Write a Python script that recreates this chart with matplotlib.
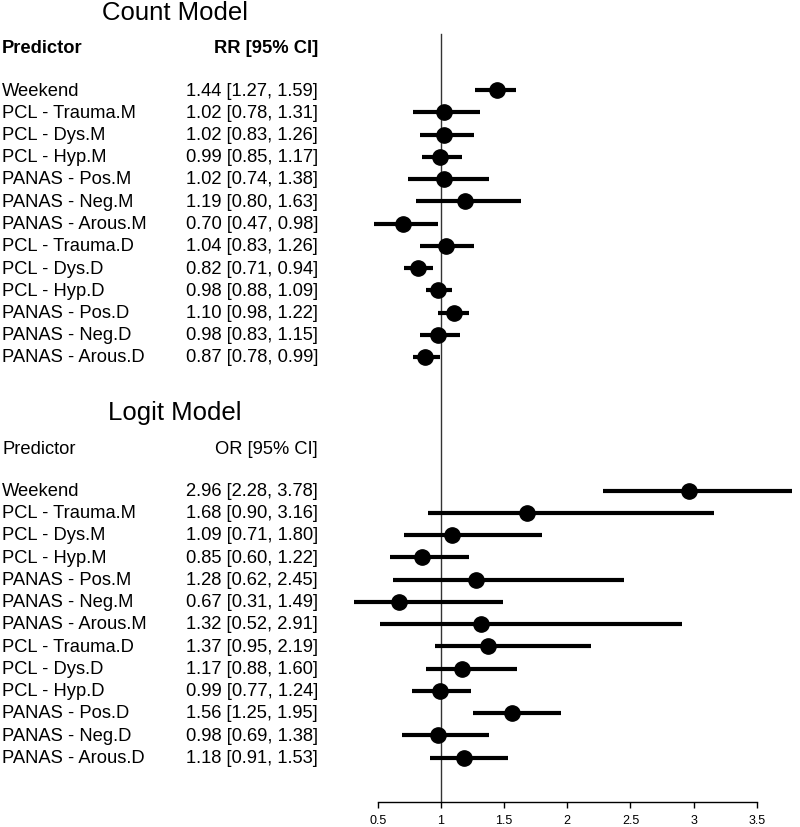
import numpy as np
import matplotlib.pyplot as plt

predictors = ["Weekend", "PCL - Trauma.M", "PCL - Dys.M", "PCL - Hyp.M",
              "PANAS - Pos.M", "PANAS - Neg.M", "PANAS - Arous.M",
              "PCL - Trauma.D", "PCL - Dys.D", "PCL - Hyp.D",
              "PANAS - Pos.D", "PANAS - Neg.D", "PANAS - Arous.D"]

# count model (rate ratios)
rr = [1.44, 1.02, 1.02, 0.99, 1.02, 1.19, 0.70, 1.04, 0.82, 0.98, 1.10, 0.98, 0.87]
rr_lo = [1.27, 0.78, 0.83, 0.85, 0.74, 0.80, 0.47, 0.83, 0.71, 0.88, 0.98, 0.83, 0.78]
rr_hi = [1.59, 1.31, 1.26, 1.17, 1.38, 1.63, 0.98, 1.26, 0.94, 1.09, 1.22, 1.15, 0.99]

# logit model (odds ratios)
odds = [2.96, 1.68, 1.09, 0.85, 1.28, 0.67, 1.32, 1.37, 1.17, 0.99, 1.56, 0.98, 1.18]
or_lo = [2.28, 0.90, 0.71, 0.60, 0.62, 0.31, 0.52, 0.95, 0.88, 0.77, 1.25, 0.69, 0.91]
or_hi = [3.78, 3.16, 1.80, 1.22, 2.45, 1.49, 2.91, 2.19, 1.60, 1.24, 1.95, 1.38, 1.53]

xticks = [0.5, 1, 1.5, 2, 2.5, 3, 3.5]

plt.rcParams['font.family'] = ['Liberation Sans', 'DejaVu Sans']

fig = plt.figure(figsize=(8, 8.28), dpi=100)
ax = fig.add_axes([0, 1 - 803 / 828, 1, 803 / 828])

# pixel mapping: x=1 at 441px, 126.3 px per unit
ppu = 126.3
ax.set_xlim(1 - 441 / ppu, 1 + (800 - 441) / ppu)
row_h = 22.25
ax.set_ylim((803 - 91) / row_h, -91 / row_h)

for sp in ["top", "right", "left"]:
    ax.spines[sp].set_visible(False)
ax.spines["bottom"].set_bounds(0.5, 3.5)
ax.spines["bottom"].set_linewidth(1)
ax.set_yticks([])
ax.set_xticks(xticks)
ax.set_xticklabels([f"{t:g}" for t in xticks], fontsize=9)
ax.tick_params(axis="x", length=4.5, width=1, pad=4)

ax.plot([1, 1], [-2.5, (803 - 91) / row_h], color="#333333", lw=1, zorder=1)

x_label = 1 - 439 / ppu
x_val = 1 - (441 - 318) / ppu


def block(offset, est, lo, hi, title, header, bold_header):
    rows = np.arange(len(predictors)) + offset
    ax.hlines(rows, lo, hi, color="black", lw=3, zorder=2)
    ax.plot(est, rows, "o", color="black", ms=11, zorder=3)
    for r, name, e, l, h in zip(rows, predictors, est, lo, hi):
        ax.text(x_label, r, name, fontsize=13.2, va="center", ha="left")
        ax.text(x_val, r, f"{e:.2f} [{l:.2f}, {h:.2f}]", fontsize=13.2,
                va="center", ha="right")
    fw = "bold" if bold_header else "normal"
    ax.text(x_label, offset - 1.9, "Predictor", fontsize=13.2, va="center",
            ha="left", fontweight=fw)
    ax.text(x_val, offset - 1.9, header, fontsize=13.2, va="center",
            ha="right", fontweight=fw)
    ax.text(1 - (441 - 175) / ppu, offset - 3.2, title, fontsize=18.5,
            va="baseline", ha="center")


block(0, rr, rr_lo, rr_hi, "Count Model", "RR [95% CI]", True)
block(18, odds, or_lo, or_hi, "Logit Model", "OR [95% CI]", False)

fig.savefig("out.png", dpi=100)
